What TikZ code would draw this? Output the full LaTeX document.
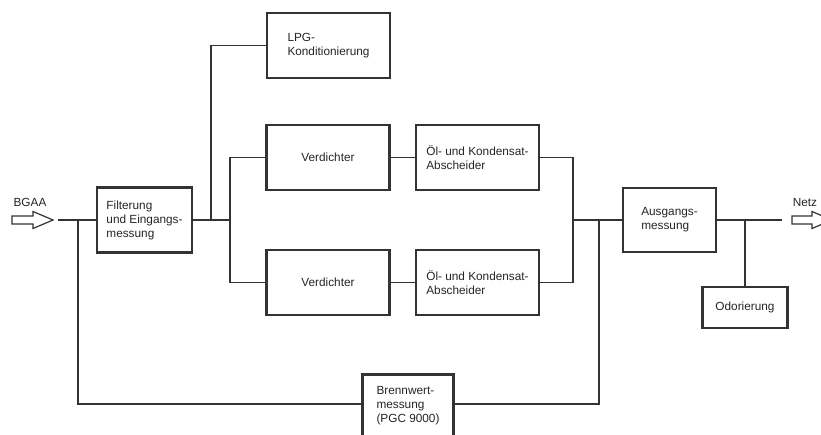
\documentclass[tikz,border=0pt]{standalone}
\usepackage{fontspec}
\setmainfont{Liberation Sans}
\usepackage{tikz}
\usetikzlibrary{shapes,arrows,positioning}

\begin{document}
\begin{tikzpicture}[x=1pt,y=-1pt,node distance=149.5pt,font=\fontsize{11.8}{14}\selectfont]
\tikzstyle{block}=[rectangle,draw=black!80,line width=2.6pt,align=left,text=black!85,minimum width=123pt,minimum height=65pt]
\tikzstyle{line}=[draw=black!80,line width=1.1pt]
\tikzstyle{feed}=[draw=black!80,line width=1.2pt,line join=miter]
\tikzstyle{tag}=[text=black!85,inner sep=0pt]
\useasboundingbox[fill=white] (0,0) rectangle (821,435);
% Eingang und Filterung
\coordinate (bgaa) at (12,220);
\draw[feed] (bgaa) -- ++(0,-4) -- ++(21,0) -- ++(0,-4.5) -- ++(20,8.5) -- ++(-20,8.5) -- ++(0,-4.5) -- ++(-21,0) -- cycle;
\node[tag] (bgaalabel) at (30,202) {BGAA};
\node[block,minimum width=95pt] (filt) at (144.5,220) {Filterung\\und Eingangs-\\messung};
\node[block] (lpg) at (328.5,45.5) {LPG-\\Konditionierung};
% zwei Verdichterstraenge
\node[block] (v1) at (328,157.5) {Verdichter};
\node[block][right of=v1] (o1) {Öl- und Kondensat-\\Abscheider};
\node[block][below of=v1,node distance=125pt] (v2) {Verdichter};
\node[block][right of=v2] (o2) {Öl- und Kondensat-\\Abscheider};
% Ausgang
\node[block,minimum width=93pt,minimum height=64pt] (ausg) at (669.5,220) {Ausgangs-\\messung};
\node[block,minimum width=85pt,minimum height=41pt] (odor) at (745,307.5) {Odorierung};
\node[block,minimum width=91pt,minimum height=76pt,anchor=north,text depth=15.5pt] (brenn) at (408,373) {Brennwert-\\messung\\(PGC 9000)};
\coordinate (netz) at (792,220);
\draw[feed] (netz) -- ++(0,-4) -- ++(20,0) -- ++(0,-4.5) -- ++(20,8.5) -- ++(-20,8.5) -- ++(0,-4.5) -- ++(-20,0) -- cycle;
\node[tag] (netzlabel) at (805,202) {Netz};

\coordinate (in) at (58,220);
\coordinate (j1) at (78,220);
\coordinate (j2) at (211,220);
\coordinate (j3) at (230,220);
\coordinate (j5) at (573,220);
\coordinate (j4) at (599,220);
\coordinate (j6) at (745,220);
\coordinate (out) at (782,220);

\draw[line] (in) -- (filt);
\draw[line] (j1) |- ([yshift=-31pt]brenn.north west);
\draw[line] ([yshift=-31pt]brenn.north east) -| (j4);
\draw[line] (filt) -- (j3);
\draw[line] (j2) |- (lpg);
\draw[line] (v1) -| (j3) |- (v2);
\draw[line] (v1) -- (o1);
\draw[line] (v2) -- (o2);
\draw[line] (o1) -| (j5) |- (o2);
\draw[line] (j5) -- (ausg);
\draw[line] (ausg) -- (out);
\draw[line] (j6) -- (odor);
\end{tikzpicture}
\end{document}
